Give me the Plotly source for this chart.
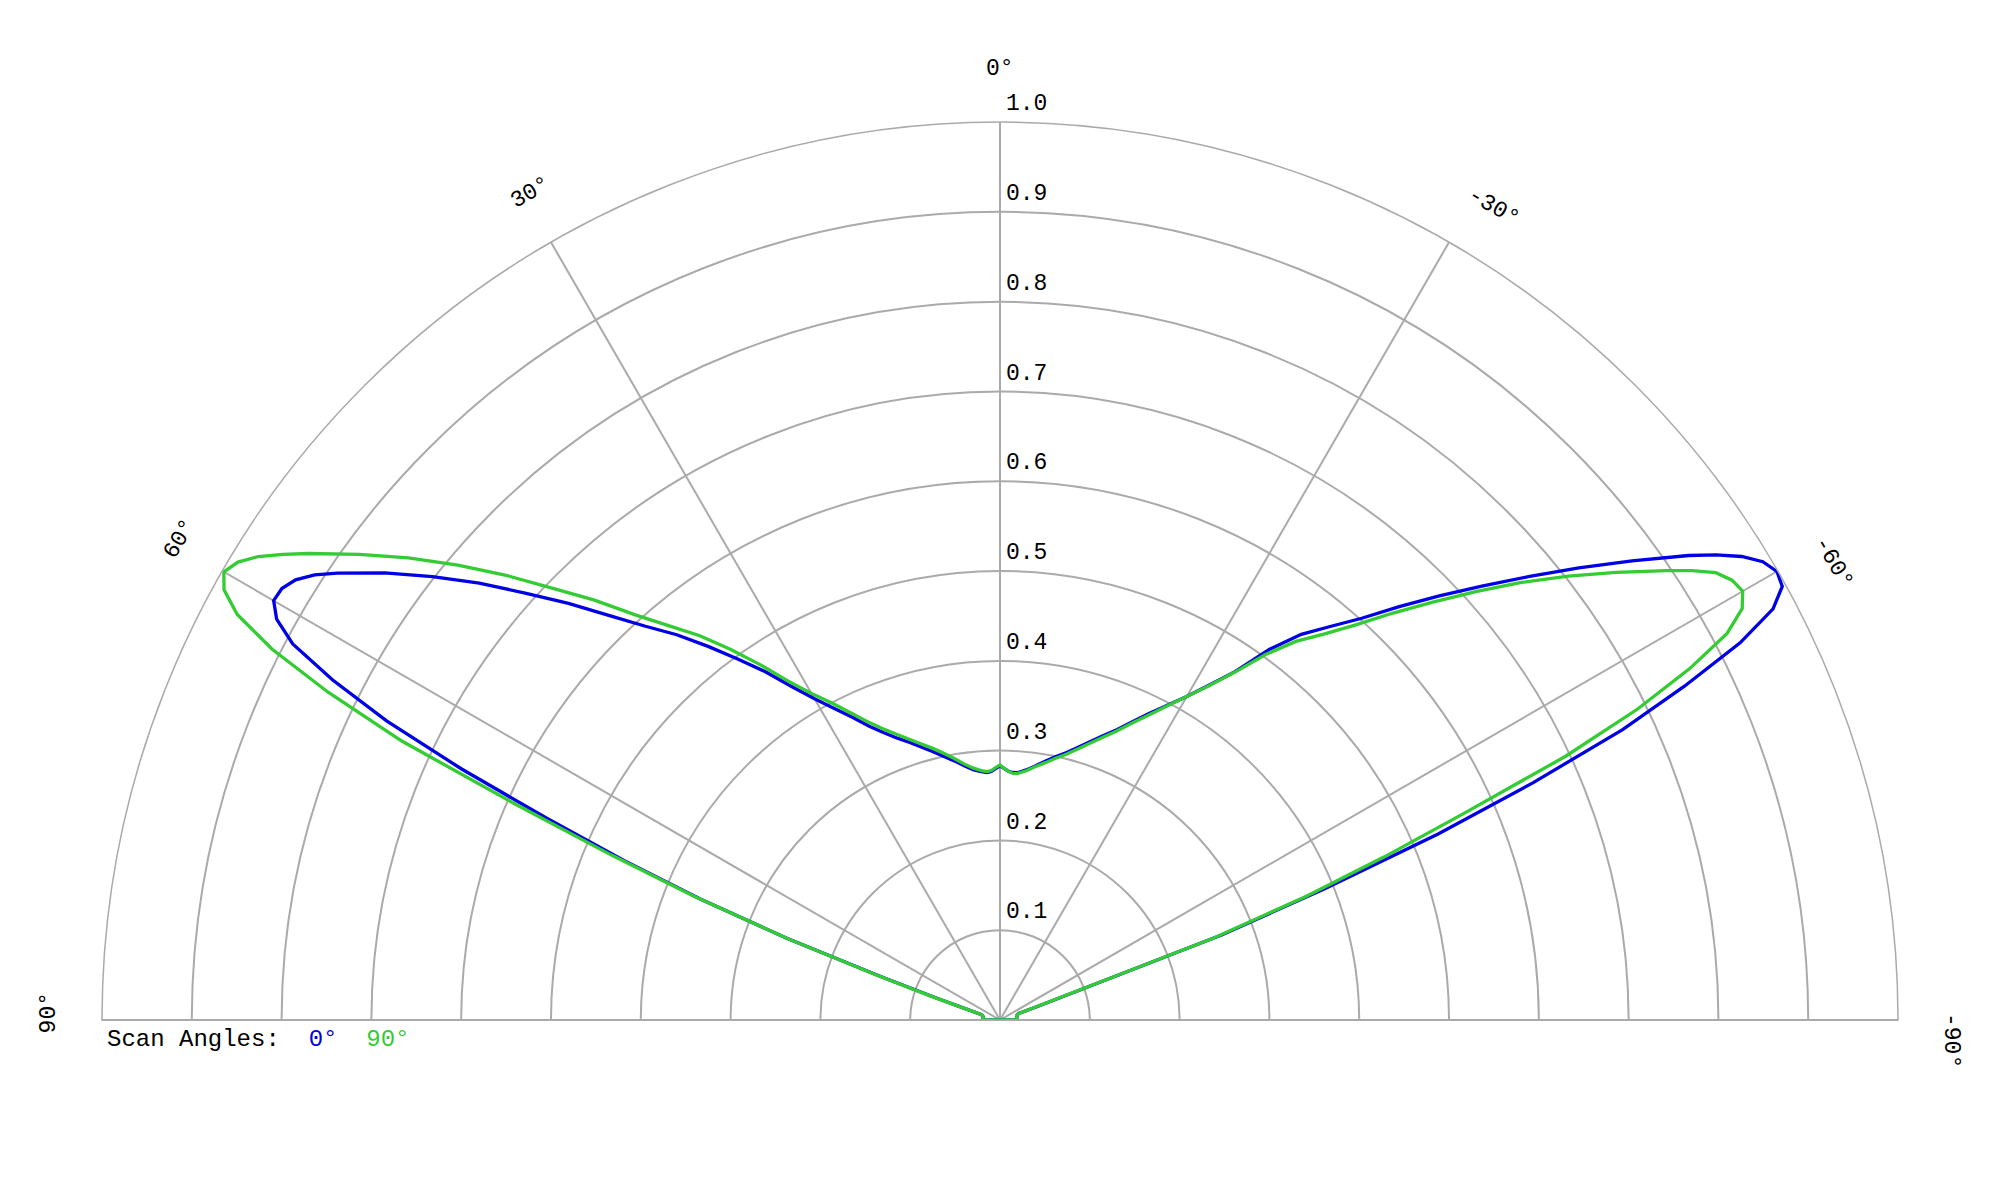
import math
import plotly.graph_objects as go

# ---------------- data ----------------
THETA = [-90, -85, -80, -76, -73, -71, -70, -69, -68, -67,
         -66, -65, -64, -63, -62, -61, -60, -59, -58, -57,
         -56, -54, -52, -50, -48, -46, -44, -42, -40, -38,
         -36, -34, -32, -30, -28, -26, -24, -22, -20, -18,
         -16, -14, -12, -10, -8, -6, -4, -3, -2, -1,
         0,
         1, 2, 3, 4, 6, 8, 10, 12, 14, 16,
         18, 20, 22, 24, 26, 28, 30, 32, 34, 36,
         38, 40, 42, 44, 46, 48, 50, 52, 54, 56,
         57, 58, 59, 60, 61, 62, 63, 64, 65, 66,
         67, 68, 69, 70, 71, 72, 74, 76, 80, 85,
         90]

R_SCAN_0 = [0.019, 0.019, 0.019, 0.020, 0.020, 0.022, 0.045, 0.265, 0.390, 0.530,
            0.650, 0.765, 0.848, 0.925, 0.975, 0.996, 0.999, 0.991, 0.974, 0.951,
            0.925, 0.870, 0.818, 0.768, 0.722, 0.680, 0.640, 0.602, 0.572, 0.545,
            0.510, 0.468, 0.440, 0.416, 0.397, 0.380, 0.364, 0.349, 0.337, 0.326,
            0.316, 0.307, 0.300, 0.293, 0.286, 0.280, 0.276, 0.276, 0.277, 0.280,
            0.283,
            0.280, 0.277, 0.276, 0.277, 0.280, 0.286, 0.293, 0.300, 0.308, 0.316,
            0.325, 0.334, 0.345, 0.358, 0.375, 0.393, 0.413, 0.438, 0.468, 0.497,
            0.528, 0.560, 0.590, 0.626, 0.668, 0.710, 0.757, 0.802, 0.847, 0.890,
            0.910, 0.925, 0.933, 0.934, 0.921, 0.892, 0.834, 0.760, 0.662, 0.553,
            0.455, 0.360, 0.255, 0.140, 0.075, 0.040, 0.022, 0.020, 0.019, 0.019,
            0.019]

R_SCAN_90 = [0.019, 0.019, 0.019, 0.020, 0.020, 0.022, 0.040, 0.255, 0.368, 0.465,
             0.565, 0.695, 0.790, 0.862, 0.917, 0.945, 0.955, 0.951, 0.940, 0.919,
             0.895, 0.848, 0.803, 0.758, 0.713, 0.670, 0.630, 0.592, 0.561, 0.535,
             0.503, 0.467, 0.439, 0.416, 0.396, 0.378, 0.362, 0.347, 0.335, 0.324,
             0.314, 0.305, 0.298, 0.291, 0.285, 0.279, 0.275, 0.275, 0.277, 0.280,
             0.284,
             0.281, 0.278, 0.277, 0.278, 0.282, 0.288, 0.296, 0.304, 0.312, 0.320,
             0.329, 0.339, 0.350, 0.364, 0.381, 0.400, 0.420, 0.445, 0.477, 0.510,
             0.543, 0.573, 0.607, 0.650, 0.692, 0.740, 0.788, 0.836, 0.882, 0.929,
             0.952, 0.974, 0.990, 0.998, 0.988, 0.962, 0.910, 0.832, 0.735, 0.590,
             0.470, 0.365, 0.255, 0.145, 0.080, 0.040, 0.022, 0.020, 0.019, 0.019,
             0.019]

SERIES_NAMES = ["0°", "90°"]
SERIES_COLORS = ["rgb(0,0,230)", "rgb(51,204,51)"]

RADIAL_TICKS = [0.1, 0.2, 0.3, 0.4, 0.5, 0.6, 0.7, 0.8, 0.9, 1.0]
RADIAL_LABELS = ["0.1", "0.2", "0.3", "0.4", "0.5", "0.6", "0.7", "0.8", "0.9", "1.0"]

ANGULAR_TICKS = [90, 60, 30, 0, -30, -60, -90]
ANGULAR_LABELS = ["90°", "60°", "30°", "0°", "-30°", "-60°", "-90°"]

LEGEND_TITLE = "Scan Angles:"

# ---------------- styling ----------------
FONT = "Courier New, Liberation Mono, monospace"
FSIZE = 23
GRID = "#aaaaaa"
W, H = 2000, 1200
PAGE_OFF = 8                      # browser body margin
CX, CY, RAD = 1000 - PAGE_OFF, 1020 - PAGE_OFF, 898

assert len(THETA) == len(R_SCAN_0) == len(R_SCAN_90)

fig = go.Figure()
for name, rvals, color in zip(SERIES_NAMES, [R_SCAN_0, R_SCAN_90], SERIES_COLORS):
    fig.add_trace(go.Scatterpolar(
        r=rvals + [rvals[0]], theta=THETA + [THETA[0]],
        mode="lines", name=name,
        line=dict(color=color, width=3.3),
        cliponaxis=False, showlegend=False, hoverinfo="skip"))

fig.add_trace(go.Scatterpolar(
    r=RADIAL_TICKS, theta=[0] * len(RADIAL_TICKS),
    mode="markers+text", text=RADIAL_LABELS, textposition="top right",
    marker=dict(size=8, color="rgba(0,0,0,0)"),
    textfont=dict(family=FONT, size=FSIZE, color="black"),
    cliponaxis=False, showlegend=False, hoverinfo="skip"))

annotations = []
lab_r = 1.059 * RAD
for tick, lab in zip(ANGULAR_TICKS, ANGULAR_LABELS):
    shift = 0.0 if tick == 0 else (-0.4 if tick > 0 else -1.25)
    a = math.radians(tick + shift)
    px = CX - lab_r * math.sin(a)
    py = CY - lab_r * math.cos(a)
    annotations.append(dict(
        x=px / W, y=1 - py / H, xref="paper", yref="paper",
        text=lab, showarrow=False, textangle=-tick,
        xanchor="center", yanchor="middle",
        font=dict(family=FONT, size=FSIZE, color="black")))

legend_text = LEGEND_TITLE + "\u00a0\u00a0" + "\u00a0\u00a0".join(
    f"<span style='color:{c}'>{n}</span>" for n, c in zip(SERIES_NAMES, SERIES_COLORS))
annotations.append(dict(
    x=(105 - PAGE_OFF) / W, y=1 - (1039 - PAGE_OFF) / H, xref="paper", yref="paper",
    text=legend_text, showarrow=False, xanchor="left", yanchor="middle",
    font=dict(family=FONT, size=24, color="black")))

fig.update_layout(
    width=W, height=H,
    margin=dict(l=0, r=0, t=0, b=0),
    paper_bgcolor="white",
    showlegend=False,
    annotations=annotations,
    polar=dict(
        domain=dict(x=[(CX - RAD) / W, (CX + RAD) / W],
                    y=[1 - CY / H, 1 - (CY - RAD) / H]),
        sector=[0, 180],
        bgcolor="white",
        angularaxis=dict(
            rotation=90, direction="counterclockwise", thetaunit="degrees",
            tickmode="array", tickvals=ANGULAR_TICKS, showticklabels=False,
            ticks="", showgrid=True, gridcolor=GRID, gridwidth=1.5,
            showline=True, linecolor=GRID, linewidth=1.5),
        radialaxis=dict(
            range=[0, 1], tickmode="array", tickvals=RADIAL_TICKS,
            showticklabels=False, ticks="", showgrid=True, gridcolor=GRID,
            gridwidth=1.5, showline=False, angle=90),
    ),
)

fig.write_html("out.html")
